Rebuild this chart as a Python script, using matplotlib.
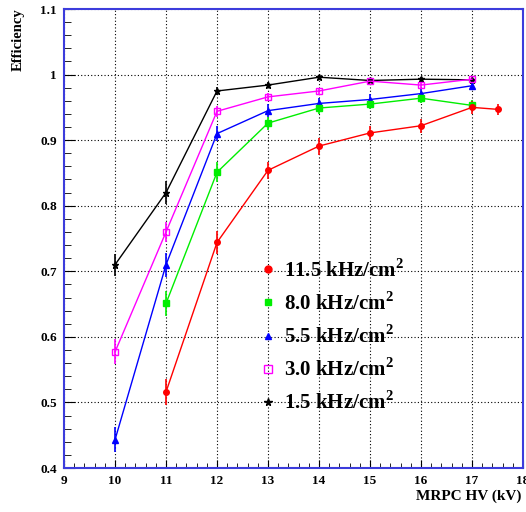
import matplotlib
matplotlib.use("Agg")
import matplotlib.pyplot as plt
from matplotlib.ticker import MultipleLocator
from matplotlib.lines import Line2D

# fuentes tipo Times en negrita, como el original
plt.rcParams['font.family'] = ['Liberation Serif']
plt.rcParams['font.weight'] = 'bold'
plt.rcParams['mathtext.fontset'] = 'custom'
plt.rcParams['mathtext.bf'] = 'Liberation Serif:bold'
plt.rcParams['mathtext.rm'] = 'Liberation Serif:bold'

# Datos (HV en kV, eficiencia)
hv_15 = [10, 11, 12, 13, 14, 15, 16, 17]
eff_15 = [0.710, 0.820, 0.975, 0.984, 0.996, 0.991, 0.993, 0.992]
err_15 = [0.017, 0.017, 0.006, 0.005, 0.004, 0.004, 0.004, 0.004]

hv_30 = [10, 11, 12, 13, 14, 15, 16, 17]
eff_30 = [0.577, 0.760, 0.944, 0.966, 0.975, 0.990, 0.984, 0.993]
err_30 = [0.019, 0.015, 0.008, 0.006, 0.005, 0.004, 0.005, 0.004]

hv_55 = [10, 11, 12, 13, 14, 15, 16, 17]
eff_55 = [0.443, 0.710, 0.910, 0.945, 0.956, 0.962, 0.971, 0.983]
err_55 = [0.019, 0.018, 0.011, 0.010, 0.009, 0.008, 0.007, 0.006]

hv_80 = [11, 12, 13, 14, 15, 16, 17]
eff_80 = [0.651, 0.851, 0.926, 0.949, 0.955, 0.964, 0.953]
err_80 = [0.019, 0.015, 0.010, 0.009, 0.008, 0.008, 0.008]

hv_115 = [11, 12, 13, 14, 15, 16, 17, 17.5]
eff_115 = [0.516, 0.744, 0.854, 0.891, 0.911, 0.922, 0.950, 0.947]
err_115 = [0.020, 0.017, 0.013, 0.013, 0.011, 0.011, 0.010, 0.008]

etiquetas = [r"11.5 kHz/cm$^\mathbf{2}$", r"8.0 kHz/cm$^\mathbf{2}$",
             r"5.5 kHz/cm$^\mathbf{2}$", r"3.0 kHz/cm$^\mathbf{2}$",
             r"1.5 kHz/cm$^\mathbf{2}$"]

fig = plt.figure(figsize=(5.26, 5.12), dpi=100)
ax = fig.add_axes([0.1217, 0.0859, 0.8726, 0.8965])

# orden de dibujo: negro abajo, rojo arriba
series = [
    (hv_15, eff_15, err_15, "black", "*", 4.5, "full", etiquetas[4]),
    (hv_30, eff_30, err_30, "#ff00ff", "s", 4.5, "none", etiquetas[3]),
    (hv_55, eff_55, err_55, "#0000ff", "^", 4, "full", etiquetas[2]),
    (hv_80, eff_80, err_80, "#00ee00", "s", 4, "full", etiquetas[1]),
    (hv_115, eff_115, err_115, "#ff0000", "o", 4, "full", etiquetas[0]),
]

leg_handles = []
for x, y, e, c, m, ms, fill, lab in series:
    ax.errorbar(x, y, yerr=e, color=c, marker=m, markersize=ms,
                markerfacecolor=(c if fill == "full" else "none"),
                markeredgecolor=c, lw=1, elinewidth=1.2, capsize=0, label=lab)
    leg_handles.append(Line2D([], [], ls="none", marker=m, markersize=ms + 1,
                              color=c, markerfacecolor=(c if fill == "full" else "none"),
                              markeredgecolor=c))
leg_handles = leg_handles[::-1]

ax.legend(leg_handles, etiquetas, loc="upper left", bbox_to_anchor=(0.43, 0.455),
          frameon=False, fontsize=15, handlelength=0.6, handletextpad=0.5,
          labelspacing=0.5, borderaxespad=0, borderpad=0)

ax.set_xlim(9, 18)
ax.set_ylim(0.4, 1.1)
ax.xaxis.set_major_locator(MultipleLocator(1))
ax.xaxis.set_minor_locator(MultipleLocator(0.2))
ax.yaxis.set_major_locator(MultipleLocator(0.1))
ax.yaxis.set_minor_locator(MultipleLocator(0.02))
ax.yaxis.set_major_formatter(plt.FuncFormatter(lambda v, p: "1" if abs(v - 1) < 1e-9 else "%.1f" % v))

ax.grid(True, which="major", color="black", ls=(0, (1, 2)), lw=0.8)
ax.tick_params(which="both", direction="in", top=False, right=False,
               labelsize=9.5, pad=5, color="black")
ax.tick_params(axis="y", which="major", length=8)
ax.tick_params(axis="y", which="minor", length=5)
ax.tick_params(axis="x", which="major", length=6)
ax.tick_params(axis="x", which="minor", length=3.5)
for s in ax.spines.values():
    s.set_color("#3c3cdc")
    s.set_linewidth(1.5)

fig.text(0.034, 0.983, "Efficiency", rotation=90, ha="center", va="top",
         fontsize=10.5, fontweight="bold")
fig.text(0.992, 0.030, "MRPC HV (kV)", ha="right", va="center",
         fontsize=11, fontweight="bold")

fig.savefig("out.png", dpi=100)
